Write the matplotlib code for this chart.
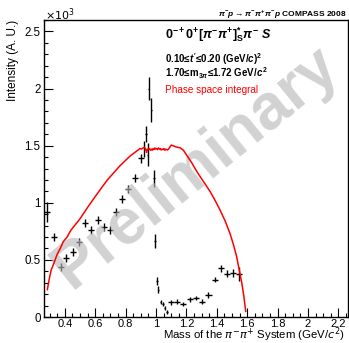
import numpy as np
import matplotlib
matplotlib.use("Agg")
import matplotlib.pyplot as plt
from matplotlib.ticker import MultipleLocator, FuncFormatter

plt.rcParams['font.family'] = ['Liberation Sans', 'DejaVu Sans']
plt.rcParams['mathtext.fontset'] = 'custom'
plt.rcParams['mathtext.rm'] = 'Liberation Sans:bold'
plt.rcParams['mathtext.it'] = 'Liberation Sans:bold:italic'
plt.rcParams['mathtext.bf'] = 'Liberation Sans:bold'

# intensity in units of 10^3, 40 MeV bins below the f0(980)
low_mass = [0.285, 0.33, 0.372, 0.41, 0.452, 0.495, 0.533, 0.572, 0.62, 0.658,
            0.697, 0.737, 0.778, 0.818, 0.862, 0.90]
low_int = [0.92, 0.70, 0.44, 0.515, 0.573, 0.655, 0.82, 0.763, 0.851, 0.79,
           0.765, 0.92, 1.035, 1.12, 1.217, 1.39]
low_err = [0.09, 0.035, 0.035, 0.035, 0.035, 0.035, 0.035, 0.035, 0.035, 0.035,
           0.035, 0.035, 0.035, 0.035, 0.035, 0.04]

# 10 MeV bins around the KK threshold
fine_mass = [0.923, 0.934, 0.945, 0.951, 0.969, 0.987, 0.993, 1.007, 1.015,
             1.032, 1.046, 1.056, 1.072]
fine_int = [1.47, 1.60, 1.42, 2.00, 1.81, 1.215, 0.665, 0.315, 0.24,
            0.13, 0.115, 0.08, 0.045]
fine_err = [0.07, 0.07, 0.10, 0.10, 0.105, 0.075, 0.06, 0.035, 0.03,
            0.02, 0.02, 0.02, 0.02]

# 40 MeV bins above
high_mass = [1.10, 1.14, 1.18, 1.222, 1.262, 1.302, 1.345, 1.385, 1.425,
             1.468, 1.508, 1.548]
high_int = [0.128, 0.134, 0.114, 0.155, 0.168, 0.134, 0.19, 0.328, 0.427,
            0.38, 0.389, 0.377]
high_err = [0.02, 0.02, 0.02, 0.02, 0.02, 0.02, 0.025, 0.025, 0.03,
            0.03, 0.035, 0.065]

# phase space integral
ps_mass = [0.285, 0.30, 0.31, 0.325, 0.35, 0.37, 0.39, 0.415, 0.44, 0.50, 0.55,
           0.587, 0.63, 0.68, 0.70, 0.76, 0.83, 0.87, 0.895, 0.905, 0.915, 0.925,
           0.932, 0.938, 0.944, 0.95, 0.956, 0.962, 0.968, 0.974, 0.98, 0.986,
           0.992, 0.998, 1.004, 1.010, 1.016, 1.022, 1.028, 1.034, 1.040, 1.046,
           1.052, 1.058, 1.064, 1.070, 1.076, 1.082, 1.09, 1.10, 1.11, 1.13,
           1.16, 1.18, 1.20, 1.235, 1.27, 1.29, 1.32, 1.355, 1.385, 1.42, 1.455,
           1.487, 1.51, 1.53, 1.545, 1.564, 1.578, 1.59]
ps_int = [0.24, 0.35, 0.41, 0.46, 0.55, 0.60, 0.66, 0.70, 0.76, 0.86, 0.96,
          1.03, 1.11, 1.2, 1.23, 1.32, 1.41, 1.45, 1.475, 1.47, 1.48, 1.485,
          1.47, 1.44, 1.47, 1.465, 1.475, 1.46, 1.47, 1.46, 1.475, 1.465,
          1.48, 1.47, 1.475, 1.465, 1.48, 1.47, 1.475, 1.462, 1.47, 1.465,
          1.475, 1.46, 1.47, 1.465, 1.462, 1.47, 1.485, 1.505, 1.50, 1.49,
          1.48, 1.46, 1.42, 1.35, 1.27, 1.23, 1.17, 1.10, 1.03, 0.94, 0.84,
          0.73, 0.63, 0.53, 0.43, 0.30, 0.18, 0.05]

mass = low_mass + fine_mass + high_mass
intensity = low_int + fine_int + high_int
yerr = low_err + fine_err + high_err
xerr = [0.02] * len(low_mass) + [0.004] * len(fine_mass) + [0.02] * len(high_mass)

fig = plt.figure(figsize=(3.49, 3.43), dpi=100)
ax = fig.add_axes([44 / 349, 26 / 343, 304 / 349, 297 / 343])

ax.errorbar(mass, intensity, yerr=yerr, xerr=xerr, fmt='none', ecolor='black',
            elinewidth=1.0, capsize=0, zorder=2)
ax.plot(ps_mass, ps_int, color='#ff0000', lw=1.1, zorder=4)

ax.text(0.50, 0.505, 'Preliminary', transform=ax.transAxes, rotation=39,
        ha='center', va='center', fontsize=46, fontweight='bold',
        color=(0.72, 0.72, 0.72), alpha=0.64, zorder=3, clip_on=False)

ax.set_xlim(0.263, 2.263)
ax.set_ylim(0, 2.6)
ax.xaxis.set_major_locator(MultipleLocator(0.2))
ax.xaxis.set_minor_locator(MultipleLocator(0.05))
ax.yaxis.set_major_locator(MultipleLocator(0.5))
ax.yaxis.set_minor_locator(MultipleLocator(0.1))
fmt = FuncFormatter(lambda v, p: '%g' % round(v, 2))
ax.xaxis.set_major_formatter(fmt)
ax.yaxis.set_major_formatter(fmt)
ax.tick_params(which='both', direction='in', top=False, right=False,
               labelsize=8.3, width=0.8)
ax.tick_params(which='major', length=6.5)
ax.tick_params(which='minor', length=3.2)
ax.tick_params(axis='x', pad=1.5, labelsize=8.0)
ax.tick_params(axis='y', pad=2.5)
for s in ax.spines.values():
    s.set_linewidth(1.0)

fig.text(13 / 349, 1 - 20 / 343, 'Intensity (A. U.)', rotation=90,
         ha='center', va='top', fontsize=8.5)
fig.text(345 / 349, 4 / 343, r'Mass of the $\pi^{-}\pi^{+}$ System (GeV/$c^{2}$)',
         ha='right', va='baseline', fontsize=8.2, math_fontfamily='dejavusans')
fig.text(45 / 349, 1 - 20 / 343, r'$\times10^{3}$', ha='left', va='baseline',
         fontsize=8, math_fontfamily='dejavusans')

fig.text(347 / 349, 1 - 17 / 343,
         r'$\pi^{-}p\rightarrow\pi^{-}\pi^{+}\pi^{-}p$ COMPASS 2008',
         ha='right', va='baseline', fontsize=6, fontweight='bold')
fig.text(165 / 349, 1 - 39 / 343,
         r'$0^{-+}0^{+}[\pi^{-}\pi^{+}]^{*}_{\mathrm{S}}\pi^{-}$ $S$',
         ha='left', va='baseline', fontsize=9, fontweight='bold')
fig.text(165 / 349, 1 - 63 / 343, r"0.10≤$t'$≤0.20 (GeV/$c$)$^{2}$",
         ha='left', va='baseline', fontsize=7, fontweight='bold')
fig.text(165 / 349, 1 - 77 / 343, r'1.70≤m$_{3\pi}$≤1.72 GeV/$c^{2}$',
         ha='left', va='baseline', fontsize=7, fontweight='bold')
fig.text(165 / 349, 1 - 93 / 343, 'Phase space integral',
         ha='left', va='baseline', fontsize=7.2, color='#ff0000')

fig.savefig('out.png', dpi=100)
